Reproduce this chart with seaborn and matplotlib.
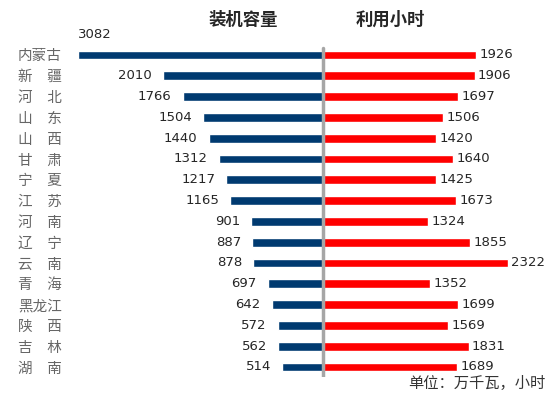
import pandas as pd
import matplotlib.pyplot as plt
import seaborn as sns

# provinces, top to bottom
provinces = ["内蒙古", "新　疆", "河　北", "山　东", "山　西", "甘　肃", "宁　夏", "江　苏",
             "河　南", "辽　宁", "云　南", "青　海", "黑龙江", "陕　西", "吉　林", "湖　南"]
capacity = [3082, 2010, 1766, 1504, 1440, 1312, 1217, 1165, 901, 887, 878, 697, 642, 572, 562, 514]
hours = [1926, 1906, 1697, 1506, 1420, 1640, 1425, 1673, 1324, 1855, 2322, 1352, 1699, 1569, 1831, 1689]

sns.set_style("white")
plt.rcParams['font.family'] = ['Noto Sans CJK SC', 'DejaVu Sans']

# long format, capacity drawn to the left as negative values
df = pd.concat([
    pd.DataFrame({"province": provinces, "value": [-v for v in capacity], "metric": "装机容量"}),
    pd.DataFrame({"province": provinces, "value": hours, "metric": "利用小时"}),
])

fig = plt.figure(figsize=(5.59, 3.99), dpi=100)
ax = fig.add_axes([70/559, 21.6/399, 480/559, 332.8/399])
sns.barplot(data=df, y="province", x="value", hue="metric", dodge=False,
            palette={"装机容量": "#003a70", "利用小时": "#ff0000"}, saturation=1,
            width=0.42, legend=False, ax=ax, orient="h")

ax.set_xlim(-3182, 2855)
ax.axvline(0, ymin=0.0, ymax=0.99, color="#a6a6a6", lw=2.5, zorder=5)

# value labels
for i, v in enumerate(capacity):
    if v > 3000:
        ax.annotate(str(v), (-v, i), xytext=(0, 15), textcoords="offset points",
                    ha="left", va="center", fontsize=9.5, family="DejaVu Sans")
    else:
        ax.annotate(str(v), (-v, i), xytext=(-8, 0), textcoords="offset points",
                    ha="right", va="center", fontsize=9.5, family="DejaVu Sans")
for i, v in enumerate(hours):
    ax.annotate(str(v), (v, i), xytext=(2.5, 0), textcoords="offset points",
                ha="left", va="center", fontsize=9.5, family="DejaVu Sans")

ax.set_xlabel("")
ax.set_ylabel("")
ax.set_xticks([])
ax.tick_params(axis="y", length=0, pad=6, labelsize=10.5, labelcolor="#666666")
sns.despine(ax=ax, left=True, bottom=True)

fig.text(243/559, 1 - 20/399, "装机容量", ha="center", va="center", fontsize=12.5, fontweight="bold")
fig.text(390/559, 1 - 20/399, "利用小时", ha="center", va="center", fontsize=12.5, fontweight="bold")
fig.text(545/559, 1 - 383/399, "单位：万千瓦，小时", ha="right", va="center", fontsize=11, color="#333333")

fig.savefig("out.png", dpi=100)
